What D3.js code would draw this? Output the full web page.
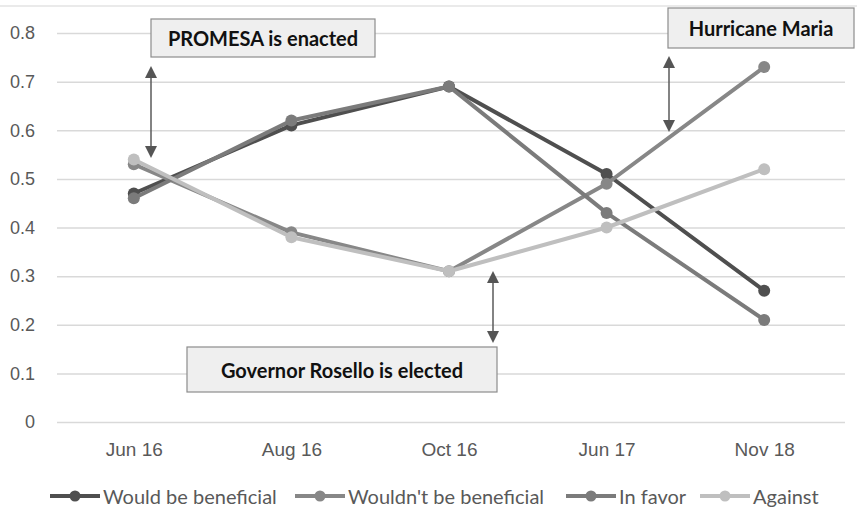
<!DOCTYPE html>
<html>
<head>
<meta charset="utf-8">
<script src="https://cdn.jsdelivr.net/npm/d3@7"></script>
<style>
  body { margin: 0; background: #fff; }
  svg { display: block; font-family: Lato, "Open Sans", sans-serif; }
</style>
</head>
<body>
<svg width="857" height="515"></svg>
<script>
// survey dates and shares
const categories = ["Jun 16", "Aug 16", "Oct 16", "Jun 17", "Nov 18"]
const seriesNames = ["Would be beneficial", "Wouldn't be beneficial", "In favor", "Against"]
const wouldBeBeneficial = [0.47, 0.61, 0.69, 0.51, 0.27]
const wouldntBeBeneficial = [0.53, 0.39, 0.31, 0.49, 0.73]
const inFavor = [0.46, 0.62, 0.69, 0.43, 0.21]
const against = [0.54, 0.38, 0.31, 0.40, 0.52]
const yTicks = [0, 0.1, 0.2, 0.3, 0.4, 0.5, 0.6, 0.7, 0.8]
const colors = ["#4f4f4f", "#878787", "#7b7b7b", "#bfbfbf"]

const allSeries = [wouldBeBeneficial, wouldntBeBeneficial, inFavor, against]

var svg = d3.select("svg");

var x = d3.scalePoint().domain(categories).range([55, 843]).padding(0.5);
var y = d3.scaleLinear().domain([0, 0.8]).range([422, 33]);

// top frame line
svg.append("line")
  .attr("x1", 0).attr("x2", 857)
  .attr("y1", 6).attr("y2", 6)
  .attr("stroke", "#e3e3e3").attr("stroke-width", 1.5);

// gridlines + y labels
var yAxis = d3.axisLeft(y).tickValues(yTicks)
  .tickSize(-(845 - 57))
  .tickFormat(d => d === 0 ? "0" : d3.format(".1f")(d));
var gy = svg.append("g").attr("transform", "translate(57,0)").call(yAxis);
gy.select(".domain").remove();
gy.selectAll(".tick line").attr("stroke", "#d9d9d9").attr("stroke-width", 1.5);
gy.selectAll(".tick text")
  .attr("x", -22)
  .attr("fill", "#595959")
  .style("font-size", "18px");

// x labels
var xAxis = d3.axisBottom(x).tickSize(0);
var gx = svg.append("g").attr("transform", "translate(0,422)").call(xAxis);
gx.select(".domain").remove();
gx.selectAll(".tick text")
  .attr("y", 21)
  .attr("fill", "#595959")
  .style("font-size", "19px");

// lines
var line = d3.line().x((d, i) => x(categories[i])).y(d => y(d));

allSeries.forEach(function(vals, s) {
  var g = svg.append("g");
  g.append("path")
    .datum(vals)
    .attr("d", line)
    .attr("fill", "none")
    .attr("stroke", colors[s])
    .attr("stroke-width", 4)
    .attr("stroke-linejoin", "round");
  g.selectAll("circle")
    .data(vals)
    .enter().append("circle")
    .attr("cx", (d, i) => x(categories[i]))
    .attr("cy", d => y(d))
    .attr("r", 6)
    .attr("fill", colors[s]);
});

// annotations (boxes + double arrows)
const notes = [
  { text: "PROMESA is enacted", box: [151, 19, 224, 38], arrow: [151, 66, 158] },
  { text: "Governor Rosello is elected", box: [187, 347, 310, 45], arrow: [493, 271, 343] },
  { text: "Hurricane Maria", box: [668, 8, 186, 40], arrow: [669, 56, 132] }
];

notes.forEach(function(n) {
  var a = n.arrow;
  svg.append("line")
    .attr("x1", a[0]).attr("x2", a[0])
    .attr("y1", a[1] + 8).attr("y2", a[2] - 8)
    .attr("stroke", "#5a5a5a").attr("stroke-width", 1.5);
  svg.append("path")
    .attr("d", `M${a[0]},${a[1]} L${a[0] - 6},${a[1] + 12} L${a[0] + 6},${a[1] + 12} Z`)
    .attr("fill", "#555");
  svg.append("path")
    .attr("d", `M${a[0]},${a[2]} L${a[0] - 6},${a[2] - 12} L${a[0] + 6},${a[2] - 12} Z`)
    .attr("fill", "#555");

  var b = n.box;
  svg.append("rect")
    .attr("x", b[0]).attr("y", b[1])
    .attr("width", b[2]).attr("height", b[3])
    .attr("fill", "#efefef")
    .attr("stroke", "#8c8c8c").attr("stroke-width", 1.2);
  svg.append("text")
    .attr("x", b[0] + b[2] / 2)
    .attr("y", b[1] + b[3] / 2)
    .attr("text-anchor", "middle")
    .attr("dominant-baseline", "central")
    .attr("fill", "#111")
    .style("font-size", "20px")
    .style("font-weight", "bold")
    .text(n.text);
});

// legend
const legendX = [50, 295, 566, 700];
var legend = svg.append("g").attr("transform", "translate(0,496)");
seriesNames.forEach(function(name, i) {
  var lg = legend.append("g").attr("transform", `translate(${legendX[i]},0)`);
  lg.append("line")
    .attr("x1", 0).attr("x2", 50)
    .attr("stroke", colors[i]).attr("stroke-width", 4);
  lg.append("circle").attr("cx", 25).attr("r", 5.5).attr("fill", colors[i]);
  lg.append("text")
    .attr("x", 53)
    .attr("dominant-baseline", "central")
    .attr("fill", "#595959")
    .style("font-size", "20px")
    .text(name);
});
</script>
</body>
</html>
